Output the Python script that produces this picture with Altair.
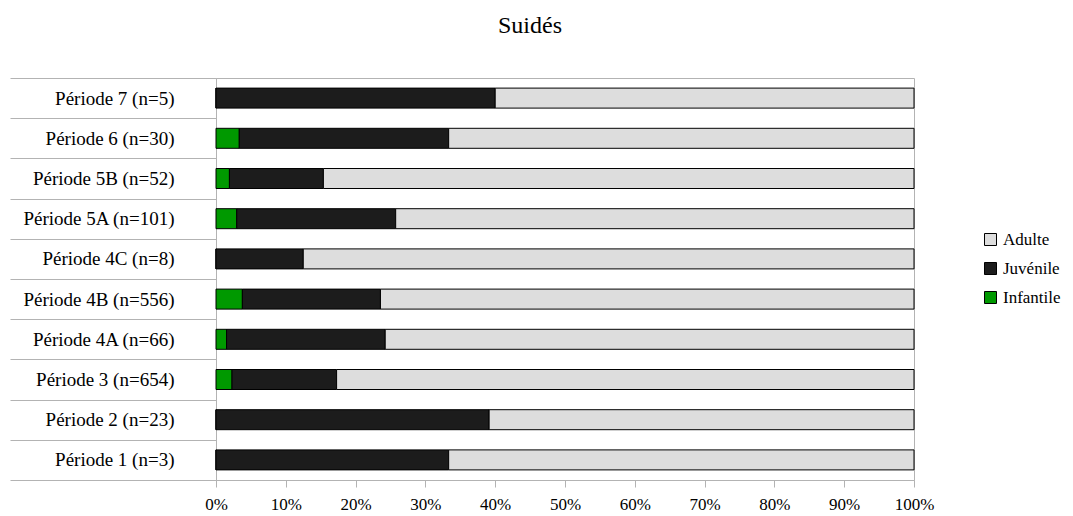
import altair as alt
import pandas as pd

periods = ["Période 7 (n=5)", "Période 6 (n=30)", "Période 5B (n=52)", "Période 5A (n=101)",
           "Période 4C (n=8)", "Période 4B (n=556)", "Période 4A (n=66)", "Période 3 (n=654)",
           "Période 2 (n=23)", "Période 1 (n=3)"]
infantile = [0, 1, 1, 3, 0, 21, 1, 15, 0, 0]
juvenile = [2, 9, 7, 23, 1, 110, 15, 98, 9, 1]
adulte = [3, 20, 44, 75, 7, 425, 50, 541, 14, 2]

groups = ["Adulte", "Juvénile", "Infantile"]
colors = ["#dddddd", "#1c1c1c", "#009900"]
stack_order = {"Infantile": 0, "Juvénile": 1, "Adulte": 2}

rows = []
for i, p in enumerate(periods):
    for g, vals in (("Infantile", infantile), ("Juvénile", juvenile), ("Adulte", adulte)):
        rows.append({"period": p, "age": g, "count": vals[i], "ord": stack_order[g]})
df = pd.DataFrame(rows)

FONT = "Liberation Serif"
GRID = "#b3b3b3"

chart = alt.Chart(df).mark_bar(stroke="black", strokeWidth=1, size=20).encode(
    x=alt.X("count:Q", stack="normalize",
            scale=alt.Scale(domain=[0, 1], nice=False),
            axis=alt.Axis(title=None, format=".0%", values=[i / 10 for i in range(11)],
                          grid=False, domainColor=GRID, tickColor=GRID, tickSize=7,
                          labelFont=FONT, labelFontSize=17, labelColor="black",
                          labelPadding=9, labelFlush=False)),
    y=alt.Y("period:N", sort=periods,
            scale=alt.Scale(paddingInner=0, paddingOuter=0),
            axis=alt.Axis(title=None, tickBand="extent", tickSize=206, tickColor=GRID,
                          tickCap="butt", domainColor=GRID, labelPadding=-164, labelFont=FONT,
                          labelFontSize=19, labelColor="black", labelAlign="right")),
    color=alt.Color("age:N", scale=alt.Scale(domain=groups, range=colors),
                    legend=alt.Legend(title=None, orient="none", legendX=766, legendY=153,
                                      symbolType="square", symbolSize=144,
                                      symbolStrokeColor="black", symbolStrokeWidth=1,
                                      labelFont=FONT, labelFontSize=17, labelColor="black",
                                      rowPadding=11, labelOffset=4)),
    order=alt.Order("ord:Q"),
).properties(
    width=698, height=402,
    title=alt.TitleParams("Suidés", font=FONT, fontSize=24, fontWeight="normal",
                          color="black", anchor="middle", dx=-35, offset=31),
    autosize=alt.AutoSizeParams(type="none"),
    padding={"left": 208, "top": 70, "right": 151, "bottom": 40},
).configure(background="white").configure_view(stroke=GRID, strokeWidth=1)

chart.save("out.html", embed_options={"renderer": "svg", "actions": False})
